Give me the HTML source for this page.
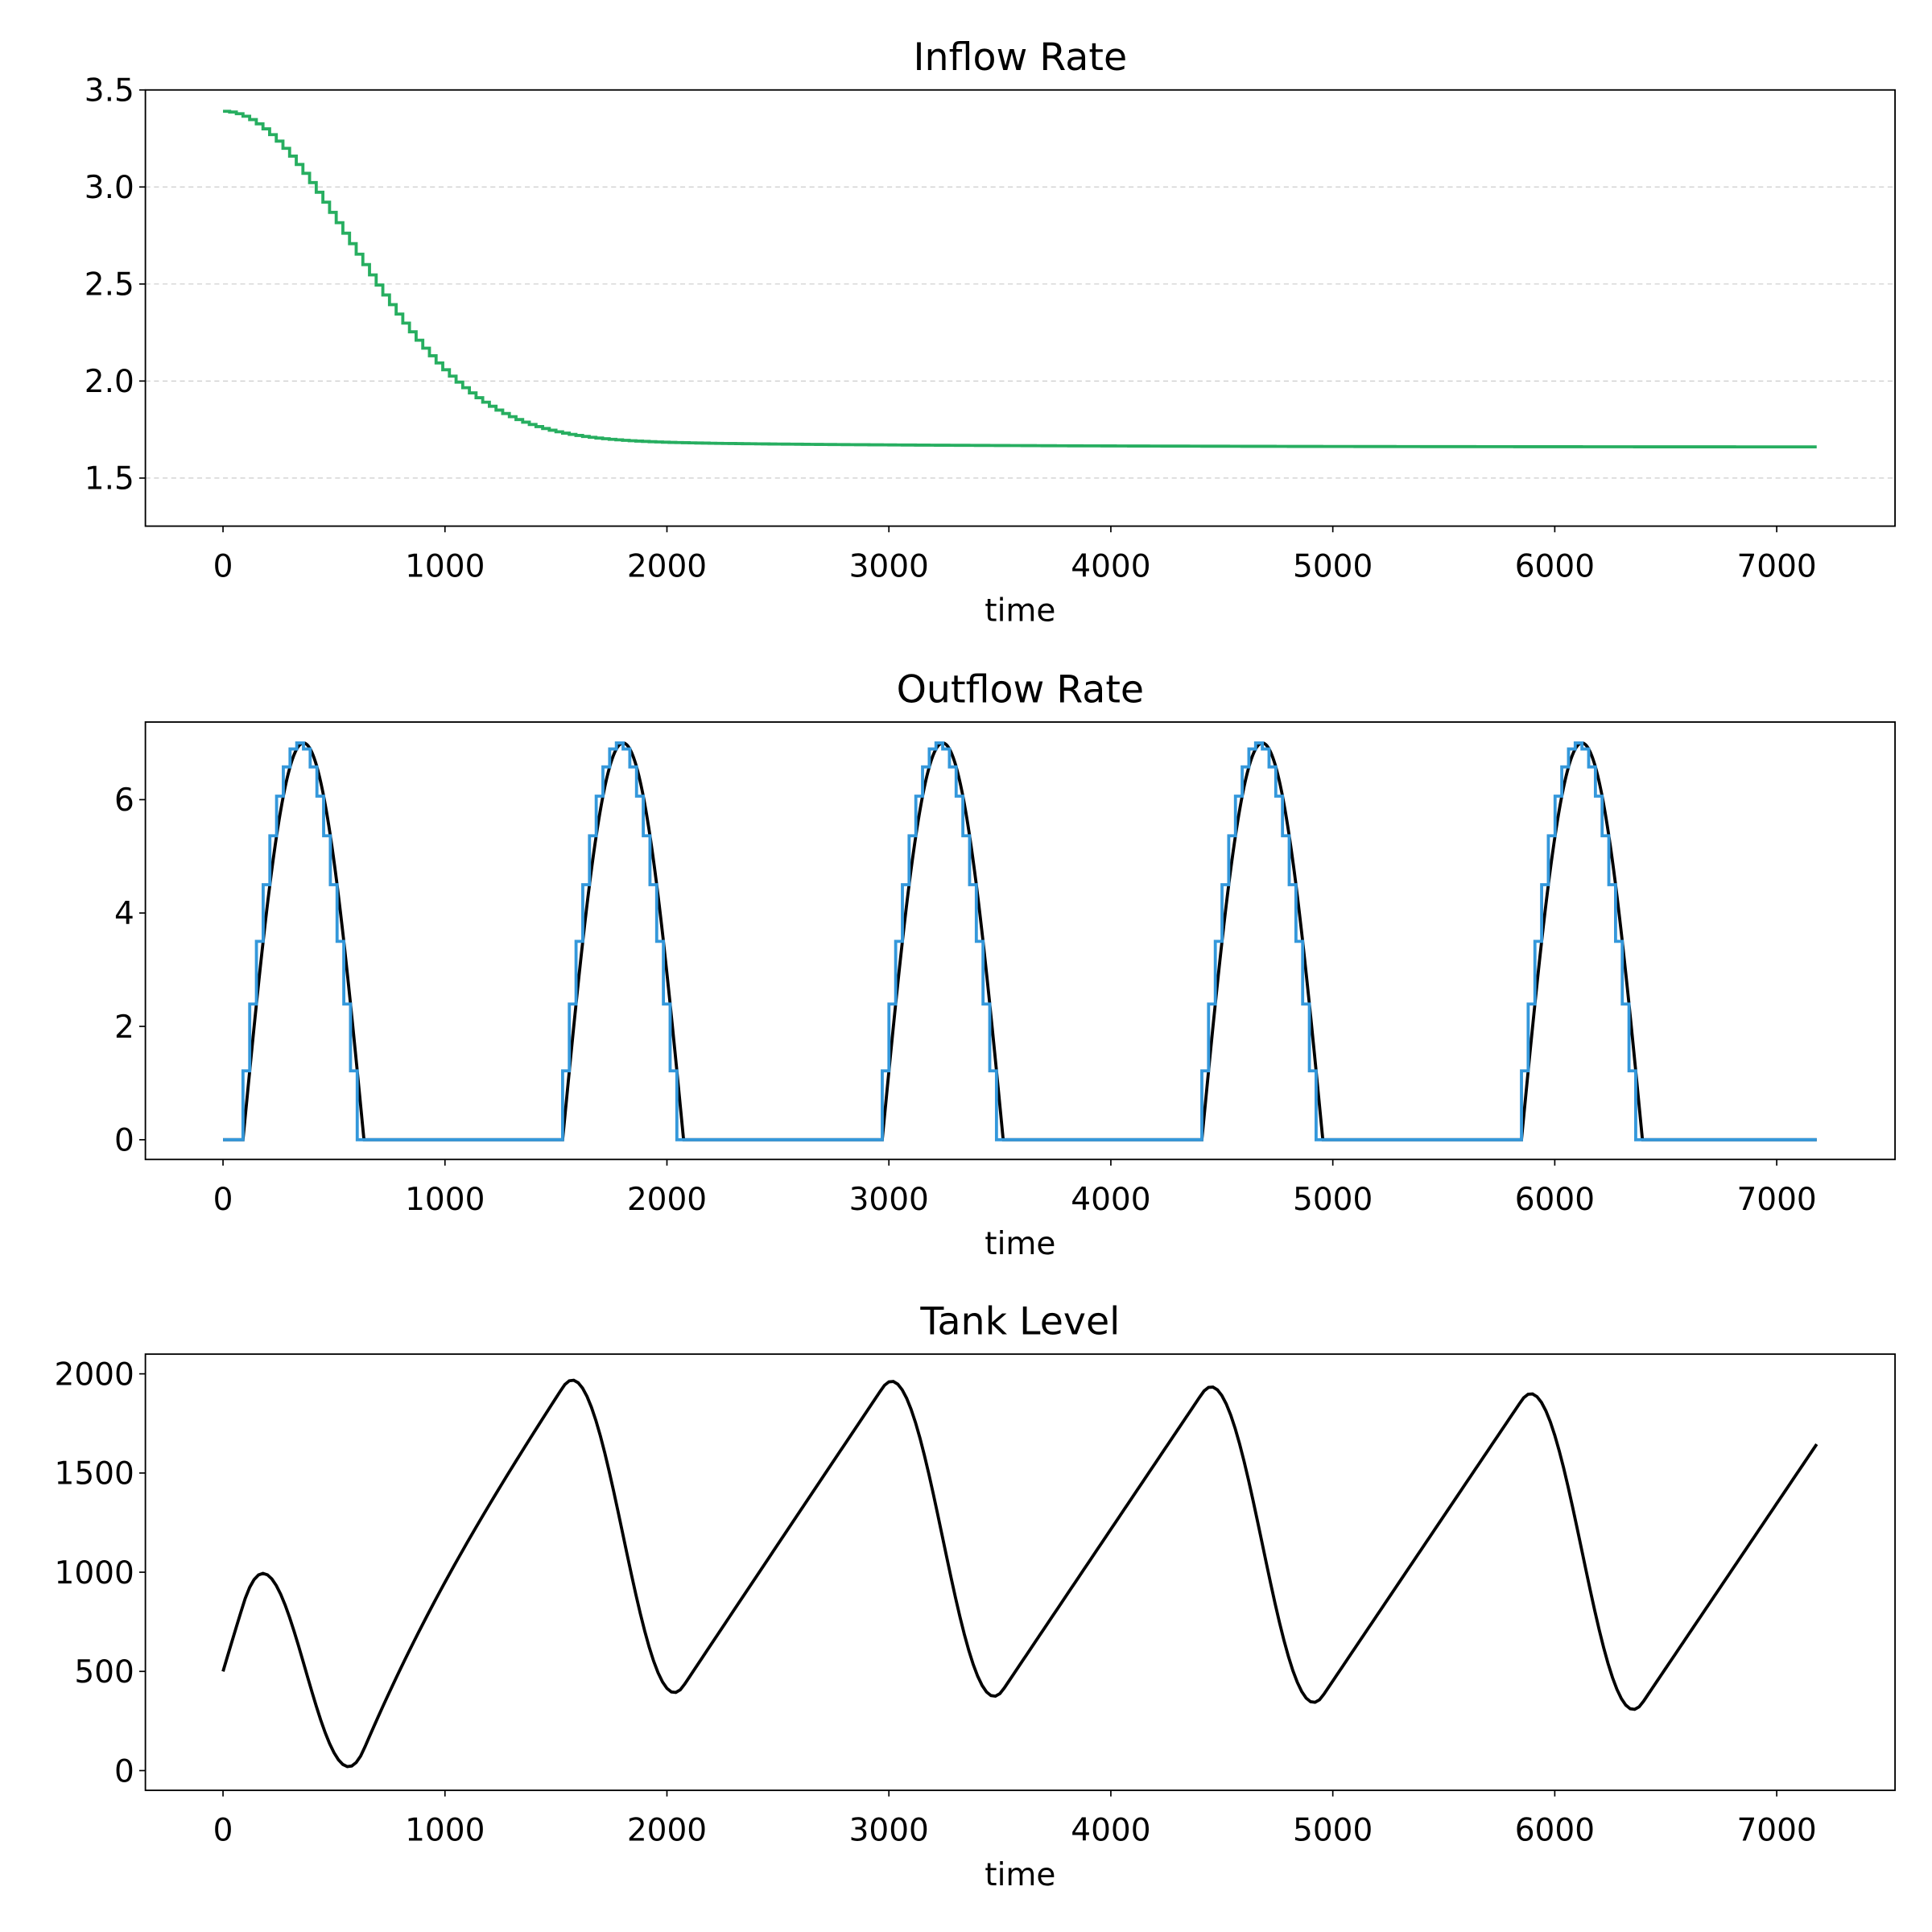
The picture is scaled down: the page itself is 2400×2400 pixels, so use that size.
<!DOCTYPE html>
<html><head><meta charset="utf-8"><style>html,body{margin:0;padding:0;background:#fff}svg{display:block}text{font-family:"DejaVu Sans","Liberation Sans",sans-serif;fill:#000}</style></head>
<body>
<svg id="s" width="2400" height="2400" viewBox="0 0 1568 1568" xmlns="http://www.w3.org/2000/svg">
<rect width="1568" height="1568" fill="#fff"/>
<g id="g"></g>
<text x="828" y="57" font-size="31" text-anchor="middle">Inflow Rate</text>
<text x="828" y="570" font-size="31" text-anchor="middle">Outflow Rate</text>
<text x="828" y="1083" font-size="31" text-anchor="middle">Tank Level</text>
</svg>
<script>
var g=document.getElementById('g');var NS='http://www.w3.org/2000/svg';
function el(t,a,txt){var e=document.createElementNS(NS,t);for(var k in a)e.setAttribute(k,a[k]);if(txt!=null)e.textContent=txt;g.appendChild(e);return e;}
function X(t){return 181+t*0.18014;}
var L=118,R=1538,FS=25.5;
var P=[{top:73,bot:427},{top:586,bot:941},{top:1099,bot:1453}];
function Y1(v){return 73+(3.5-v)*157.5;}
function Y2(v){return 925-v*46;}
function Y3(v){return 1437-v*0.161;}
[1.5,2.0,2.5,3.0].forEach(function(v){el('line',{x1:L,x2:R,y1:Y1(v),y2:Y1(v),stroke:'#ccc','stroke-width':0.8,'stroke-dasharray':'4,3'});});
function inflow(t){return 1.66+0.08*Math.exp(-t/1500)+1.65*Math.exp(-Math.pow(t/800,2));}
var T=7180;
var d='',st=30;
for(var t=0;t<T;t+=st){var v=inflow(t),t2=Math.min(t+st,T);d+=(t==0?'M':'L')+X(t).toFixed(2)+','+Y1(v).toFixed(2)+'L'+X(t2).toFixed(2)+','+Y1(v).toFixed(2);}
el('path',{d:d,fill:'none',stroke:'#27ae60','stroke-width':2.5});
var per=1440,s0=90,dur=545;
function out(t){var r=((t-s0)%per+per)%per;if(t<s0)return 0;if(r<dur)return 7*Math.sin(Math.PI*r/dur);return 0;}
d='';for(var t=0;t<=T;t+=2){d+=(t==0?'M':'L')+X(t).toFixed(2)+','+Y2(out(t)).toFixed(2);}
el('path',{d:d,fill:'none',stroke:'#000','stroke-width':2.5});
var h=dur/18;d='M'+X(0)+','+Y2(0);
for(var n=0;n<5;n++){var b=s0+n*per;d+='L'+X(b).toFixed(2)+','+Y2(0);
for(var k=0;k<17;k++){var v=7*Math.sin(Math.PI*(k+1)/18);d+='L'+X(b+k*h).toFixed(2)+','+Y2(v).toFixed(2)+'L'+X(b+(k+1)*h).toFixed(2)+','+Y2(v).toFixed(2);}
d+='L'+X(b+17*h).toFixed(2)+','+Y2(0);}
d+='L'+X(T)+','+Y2(0);
el('path',{d:d,fill:'none',stroke:'#3498db','stroke-width':2.5});
var lv=500;d='M'+X(0)+','+Y3(lv);
for(var t=0;t<T;t++){lv+=inflow(t)+0.4*Math.exp(-t/200)-out(t);if(t%20==19)d+='L'+X(t+1).toFixed(2)+','+Y3(lv).toFixed(2);}
el('path',{d:d,fill:'none',stroke:'#000','stroke-width':2.5});
P.forEach(function(p,i){
el('rect',{x:L,y:p.top,width:R-L,height:p.bot-p.top,fill:'none',stroke:'#000','stroke-width':1.2});
for(var t=0;t<=7000;t+=1000){el('line',{x1:X(t),x2:X(t),y1:p.bot,y2:p.bot+5,stroke:'#000','stroke-width':1.1});
el('text',{x:X(t),y:p.bot+41,'font-size':FS,'text-anchor':'middle'},String(t));}
el('text',{x:828,y:p.bot+77,'font-size':FS,'text-anchor':'middle'},'time');
});
function yl(y,s){el('line',{x1:L-5,x2:L,y1:y,y2:y,stroke:'#000','stroke-width':1.1});el('text',{x:L-9,y:y+9,'font-size':FS,'text-anchor':'end'},s);}
[[1.5,'1.5'],[2.0,'2.0'],[2.5,'2.5'],[3.0,'3.0'],[3.5,'3.5']].forEach(function(a){yl(Y1(a[0]),a[1]);});
[0,2,4,6].forEach(function(v){yl(Y2(v),String(v));});
[0,500,1000,1500,2000].forEach(function(v){yl(Y3(v),String(v));});
</script>
</body></html>
